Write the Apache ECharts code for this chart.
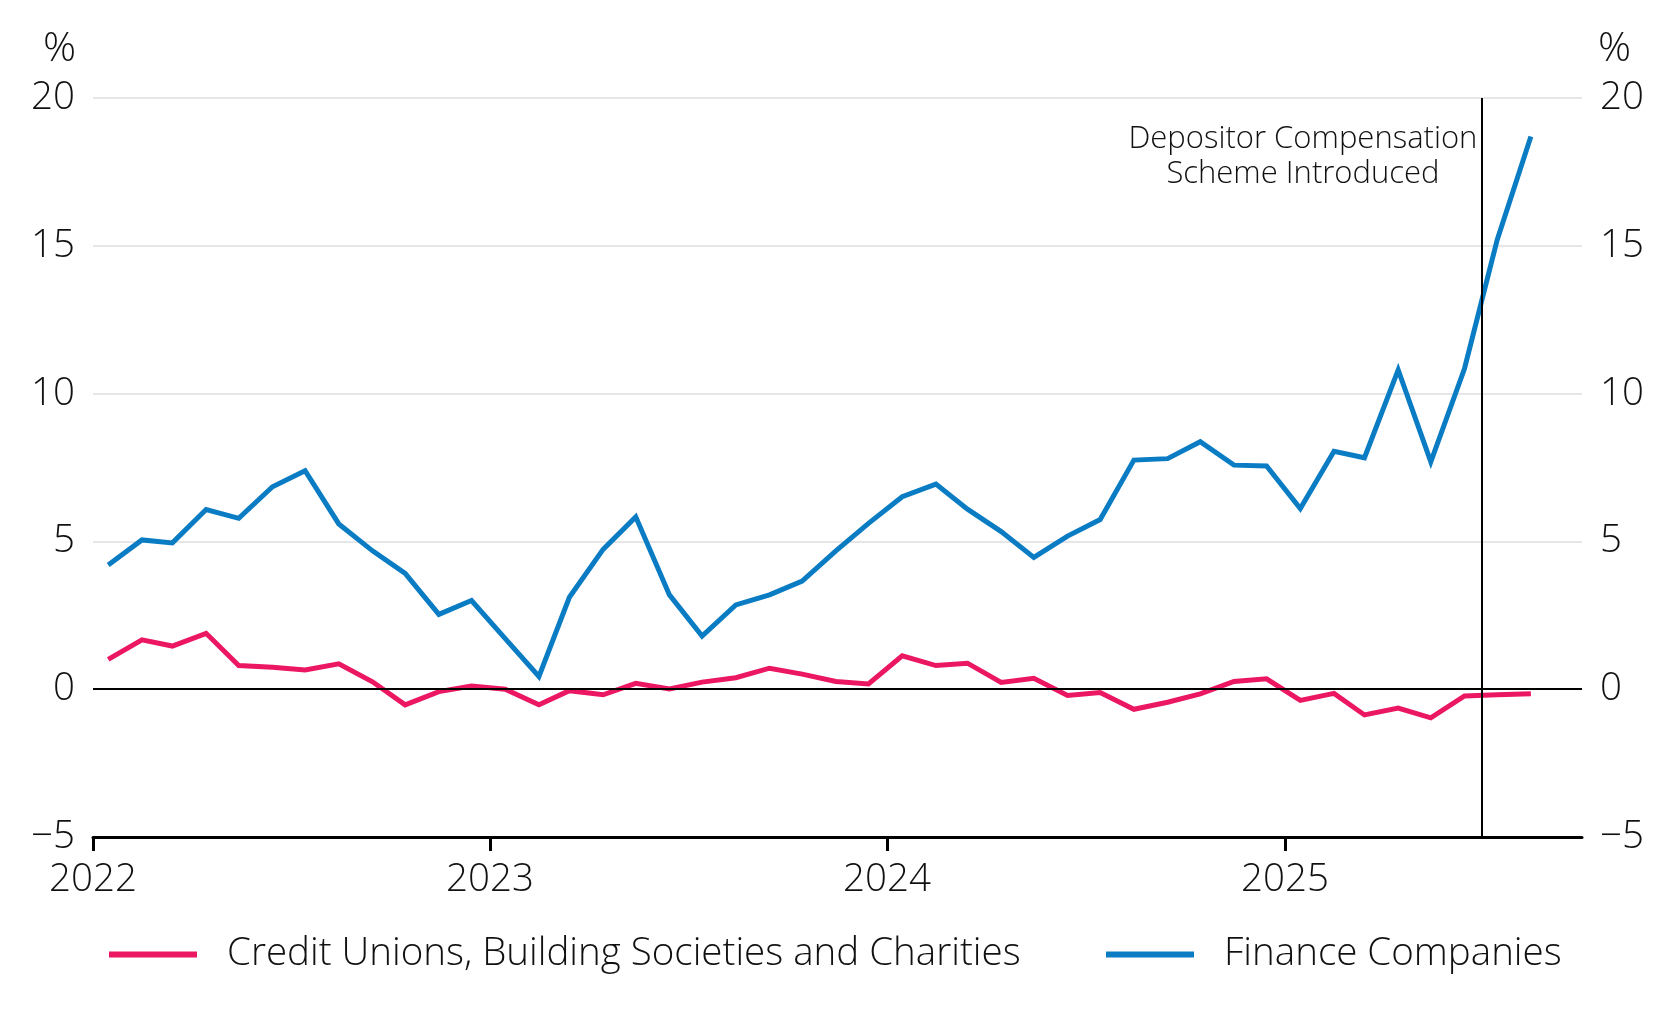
<!DOCTYPE html>
<html>
<head>
<meta charset="utf-8">
<title>Deposit growth by institution type</title>
<script src="https://cdn.jsdelivr.net/npm/echarts@6/dist/echarts.min.js"></script>
<style>
  html, body { margin: 0; padding: 0; background: #fff; }
  #chart { width: 1675px; height: 1021px; }
</style>
</head>
<body>
<div id="chart"></div>
<script>
// monthly observations, % change
const months = [
  '2022-01', '2022-02', '2022-03', '2022-04', '2022-05', '2022-06',
  '2022-07', '2022-08', '2022-09', '2022-10', '2022-11', '2022-12',
  '2023-01', '2023-02', '2023-03', '2023-04', '2023-05', '2023-06',
  '2023-07', '2023-08', '2023-09', '2023-10', '2023-11', '2023-12',
  '2024-01', '2024-02', '2024-03', '2024-04', '2024-05', '2024-06',
  '2024-07', '2024-08', '2024-09', '2024-10', '2024-11', '2024-12',
  '2025-01', '2025-02', '2025-03', '2025-04', '2025-05', '2025-06',
  '2025-07', '2025-08'
];
const creditUnions = [
  1.01, 1.67, 1.46, 1.89, 0.80, 0.74, 0.65, 0.86, 0.25, -0.53,
  -0.08, 0.11, 0.00, -0.53, -0.05, -0.19, 0.20, 0.01, 0.24, 0.39,
  0.71, 0.51, 0.26, 0.18, 1.13, 0.80, 0.88, 0.23, 0.37, -0.21,
  -0.11, -0.68, -0.44, -0.16, 0.26, 0.35, -0.38, -0.14, -0.87, -0.64,
  -0.97, -0.23, -0.19, -0.15
];
const financeCos = [
  4.20, 5.05, 4.95, 6.08, 5.78, 6.85, 7.39, 5.59, 4.68, 3.92,
  2.53, 3.00, 1.71, 0.43, 3.11, 4.73, 5.83, 3.19, 1.80, 2.85,
  3.19, 3.66, 4.68, 5.61, 6.51, 6.94, 6.09, 5.33, 4.46, 5.18,
  5.74, 7.75, 7.80, 8.37, 7.58, 7.55, 6.11, 8.05, 7.83, 10.80,
  7.69, 10.85, 15.20, 18.70
];
const yearTicks = ['2022-01-01', '2023-01-01', '2024-01-01', '2025-01-01'];
const axisStart = '2022-01-01';
const axisEnd = '2025-10-01';
const schemeDate = '2025-07-01';
const seriesNames = ['Credit Unions, Building Societies and Charities', 'Finance Companies'];
const noteText = 'Depositor Compensation\nScheme Introduced';

const PINK = '#ec1763';
const BLUE = '#0a7cc4';
const FONT = "'Open Sans', 'Noto Sans', sans-serif";
const INK = '#111';
const SIZE = 38.5;

// dates as UTC ms; the x axis is a plain value axis over these
const toTime = s => {
  const [y, m, d] = s.split('-').map(Number);
  return Date.UTC(y, m - 1, d || 1);
};
const pairs = vals => months.map((m, i) => [toTime(m + '-15'), vals[i]]);
const minus = v => (v < 0 ? '\u2212' + Math.abs(v) : String(v));

const chart = echarts.init(document.getElementById('chart'));

const yAxisBase = {
  type: 'value',
  min: -5,
  max: 20,
  interval: 5,
  axisLine: { show: false },
  axisTick: { show: false },
  axisLabel: { fontSize: SIZE, margin: 18, color: INK, fontFamily: FONT, fontWeight: 300, formatter: minus }
};

const legendBase = {
  top: 930,
  icon: 'rect',
  itemWidth: 88,
  itemHeight: 6,
  textStyle: { fontSize: SIZE, color: INK, fontFamily: FONT, fontWeight: 300, padding: [0, 0, 0, 25] }
};

const option = {
  animation: false,
  backgroundColor: '#fff',
  textStyle: { fontFamily: FONT, fontWeight: 300, color: INK },
  grid: { left: 93, right: 93, top: 98, bottom: 184 },
  legend: [
    Object.assign({ left: 104, data: [seriesNames[0]] }, legendBase),
    Object.assign({ left: 1101, data: [seriesNames[1]] }, legendBase)
  ],
  xAxis: {
    type: 'value',
    min: toTime(axisStart),
    max: toTime(axisEnd),
    axisLine: { onZero: false, lineStyle: { color: '#000', width: 3 } },
    axisTick: {
      show: true,
      length: 14,
      lineStyle: { color: '#000', width: 3 },
      customValues: yearTicks.map(toTime)
    },
    axisLabel: {
      customValues: yearTicks.map(toTime),
      formatter: v => String(new Date(v).getUTCFullYear()),
      fontSize: SIZE,
      margin: 24,
      color: INK,
      fontFamily: FONT,
      fontWeight: 300
    },
    splitLine: { show: false }
  },
  yAxis: [
    Object.assign({ position: 'left', splitLine: { lineStyle: { color: '#dedede', width: 1.5 } } }, yAxisBase),
    Object.assign({ position: 'right', splitLine: { show: false } }, yAxisBase)
  ],
  series: [
    {
      name: seriesNames[1],
      type: 'line',
      data: pairs(financeCos),
      showSymbol: false,
      color: BLUE,
      lineStyle: { color: BLUE, width: 5, join: 'miter' },
      markLine: {
        silent: true,
        symbol: 'none',
        label: { show: false },
        data: [
          { yAxis: 0, lineStyle: { color: '#000', width: 2, type: 'solid' } },
          { xAxis: toTime(schemeDate), lineStyle: { color: '#000', width: 2, type: 'solid' } }
        ]
      }
    },
    {
      name: seriesNames[0],
      type: 'line',
      data: pairs(creditUnions),
      showSymbol: false,
      color: PINK,
      lineStyle: { color: PINK, width: 5, join: 'miter' }
    }
  ]
};

chart.setOption(option);

// annotation and unit labels, anchored to the scheme date on the axis
const [vx, vy] = chart.convertToPixel({ gridIndex: 0 }, [toTime(schemeDate), 20]);
chart.setOption({
  graphic: [
    {
      type: 'text', x: vx - 179, y: vy + 24, silent: true,
      style: { text: noteText, fontSize: 31, fontFamily: FONT, fontWeight: 300, fill: INK,
               textAlign: 'center', textVerticalAlign: 'top', lineHeight: 35 }
    },
    {
      type: 'text', x: 76, y: 49, silent: true,
      style: { text: '%', fontSize: 41, fontFamily: FONT, fontWeight: 300, fill: INK,
               textAlign: 'right', textVerticalAlign: 'middle' }
    },
    {
      type: 'text', x: 1598, y: 49, silent: true,
      style: { text: '%', fontSize: 41, fontFamily: FONT, fontWeight: 300, fill: INK,
               textAlign: 'left', textVerticalAlign: 'middle' }
    }
  ]
});

window.addEventListener('resize', () => chart.resize());
</script>
</body>
</html>
